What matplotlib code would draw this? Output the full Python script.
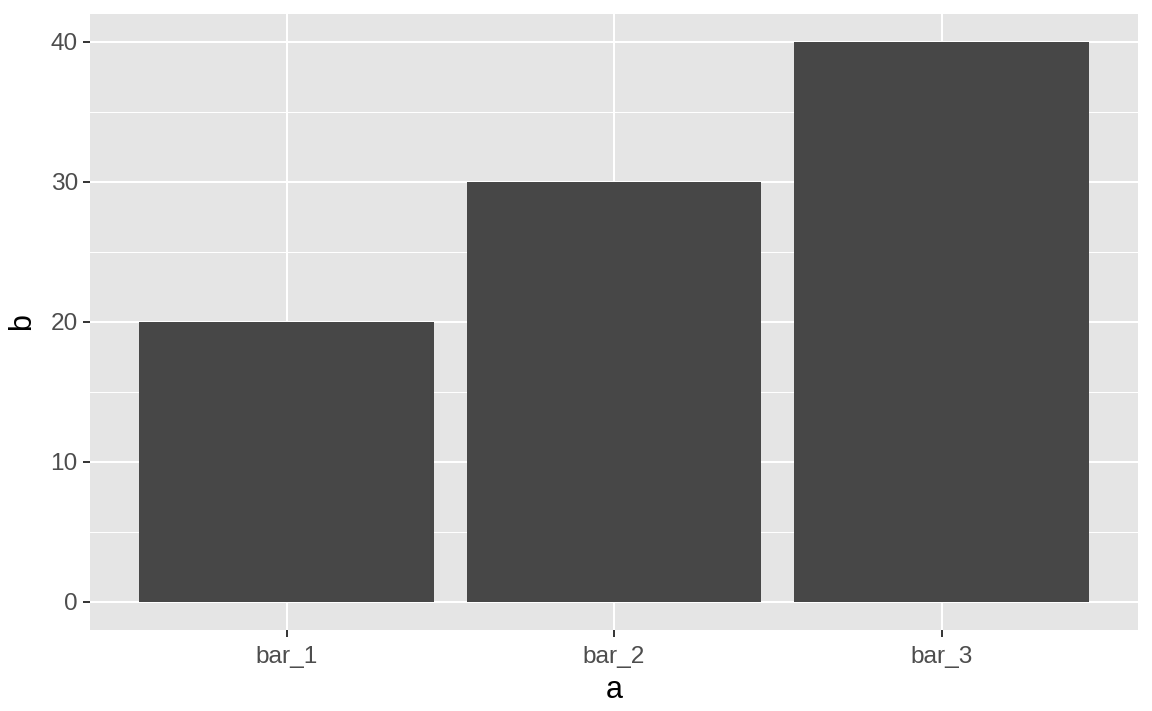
import matplotlib
matplotlib.use("Agg")
import matplotlib.pyplot as plt
from matplotlib.ticker import MultipleLocator

categories = ["bar_1", "bar_2", "bar_3"]
values = [20, 30, 40]
yticks = [0, 10, 20, 30, 40]

plt.rcParams['font.family'] = ['Liberation Sans', 'DejaVu Sans']

W, H = 1152, 711
fig = plt.figure(figsize=(W / 100, H / 100), dpi=100)
left, right, top, bottom = 90, 1138, 14, 630
ax = fig.add_axes([left / W, (H - bottom) / H, (right - left) / W, (bottom - top) / H])

ax.set_facecolor("#E5E5E5")
x = list(range(1, len(categories) + 1))
ax.bar(x, values, width=0.9, color="#474747", zorder=3)

ax.set_xlim(0.4, 3.6)
ax.set_ylim(-2, 42)
ax.set_xticks(x)
ax.set_xticklabels(categories)
ax.set_yticks(yticks)
ax.yaxis.set_minor_locator(MultipleLocator(5))

ax.grid(which="major", color="white", linewidth=1.44, zorder=1)
ax.grid(which="minor", axis="y", color="white", linewidth=0.72, zorder=1)
ax.set_axisbelow(True)

for s in ax.spines.values():
    s.set_visible(False)

ax.tick_params(axis="both", which="major", length=5.3, width=1.4, color="#333333",
               labelcolor="#4D4D4D", labelsize=17.6)
ax.tick_params(axis="x", which="major", pad=6.5)
ax.tick_params(axis="y", which="major", pad=3.5)
ax.tick_params(axis="y", which="minor", length=0)

ax.set_xlabel("a", fontsize=22, color="black", labelpad=5)
ax.set_ylabel("b", fontsize=22, color="black", labelpad=10)

fig.savefig("out.png", dpi=100, facecolor="white")
